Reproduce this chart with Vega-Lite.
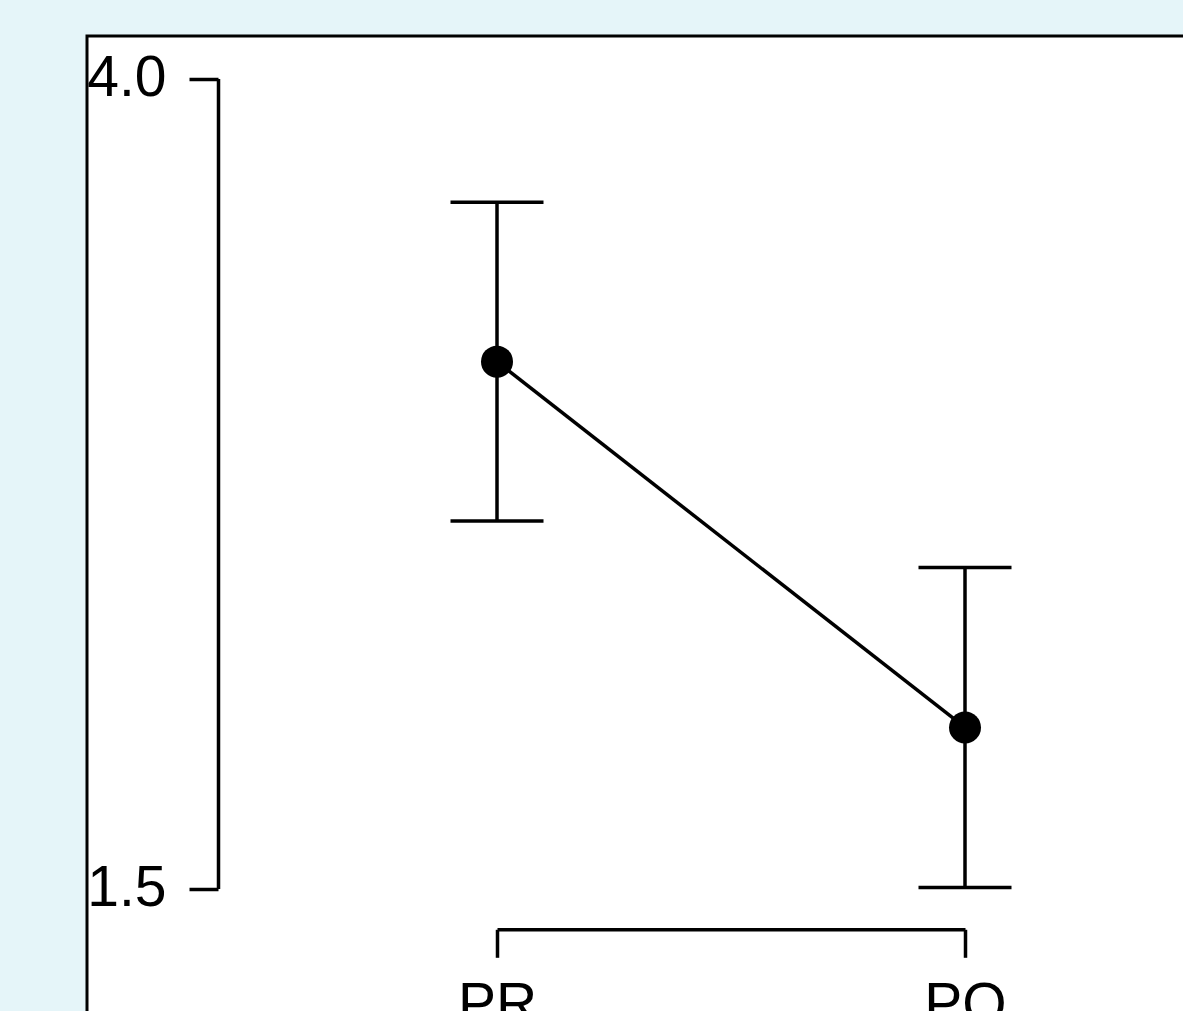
{
  "$schema": "https://vega.github.io/schema/vega-lite/v6.json",
  "autosize": {"type": "none"},
  "width": 1101,
  "height": 980,
  "padding": {"left": 87, "top": 36, "right": -5, "bottom": -5},
  "background": "#e5f5f9",
  "config": {
    "view": {"fill": "white", "stroke": "black", "strokeWidth": 3},
    "axis": {
      "grid": false,
      "title": null,
      "labelFont": "Liberation Sans",
      "labelFontSize": 57,
      "labelColor": "black",
      "tickColor": "black",
      "domainColor": "black",
      "tickWidth": 3.5,
      "domainWidth": 3.5,
      "labelFlush": false,
      "labelOverlap": false,
      "labelBound": false
    }
  },
  "data": {
    "values": [
      {"cond": "PR", "mean": 3.126, "lo": 2.634, "hi": 3.618},
      {"cond": "PO", "mean": 1.997, "lo": 1.503, "hi": 2.491}
    ]
  },
  "encoding": {
    "x": {
      "field": "cond",
      "type": "nominal",
      "sort": null,
      "scale": {"type": "point", "domain": ["PR", "PO"], "range": [410, 878], "padding": 0},
      "axis": {"offset": -86.7, "tickSize": 28, "labelPadding": 20, "labelAngle": 0}
    }
  },
  "layer": [
    {
      "mark": {"type": "rule", "color": "black", "strokeWidth": 3.5},
      "encoding": {
        "y": {
          "field": "lo",
          "type": "quantitative",
          "scale": {"domain": [1.5, 4.0], "range": [852.5, 42.5], "zero": false, "nice": false},
          "axis": {"values": [1.5, 4.0], "format": ".1f", "offset": -131, "tickSize": 29, "labelPadding": 23}
        },
        "y2": {"field": "hi"}
      }
    },
    {
      "mark": {"type": "tick", "color": "black", "opacity": 1, "size": 93, "thickness": 3.5},
      "encoding": {"y": {"field": "lo", "type": "quantitative"}}
    },
    {
      "mark": {"type": "tick", "color": "black", "opacity": 1, "size": 93, "thickness": 3.5},
      "encoding": {"y": {"field": "hi", "type": "quantitative"}}
    },
    {
      "mark": {"type": "line", "color": "black", "strokeWidth": 3.5},
      "encoding": {"y": {"field": "mean", "type": "quantitative"}}
    },
    {
      "mark": {"type": "point", "filled": true, "color": "black", "opacity": 1, "size": 1024, "shape": "circle"},
      "encoding": {"y": {"field": "mean", "type": "quantitative"}}
    }
  ]
}
